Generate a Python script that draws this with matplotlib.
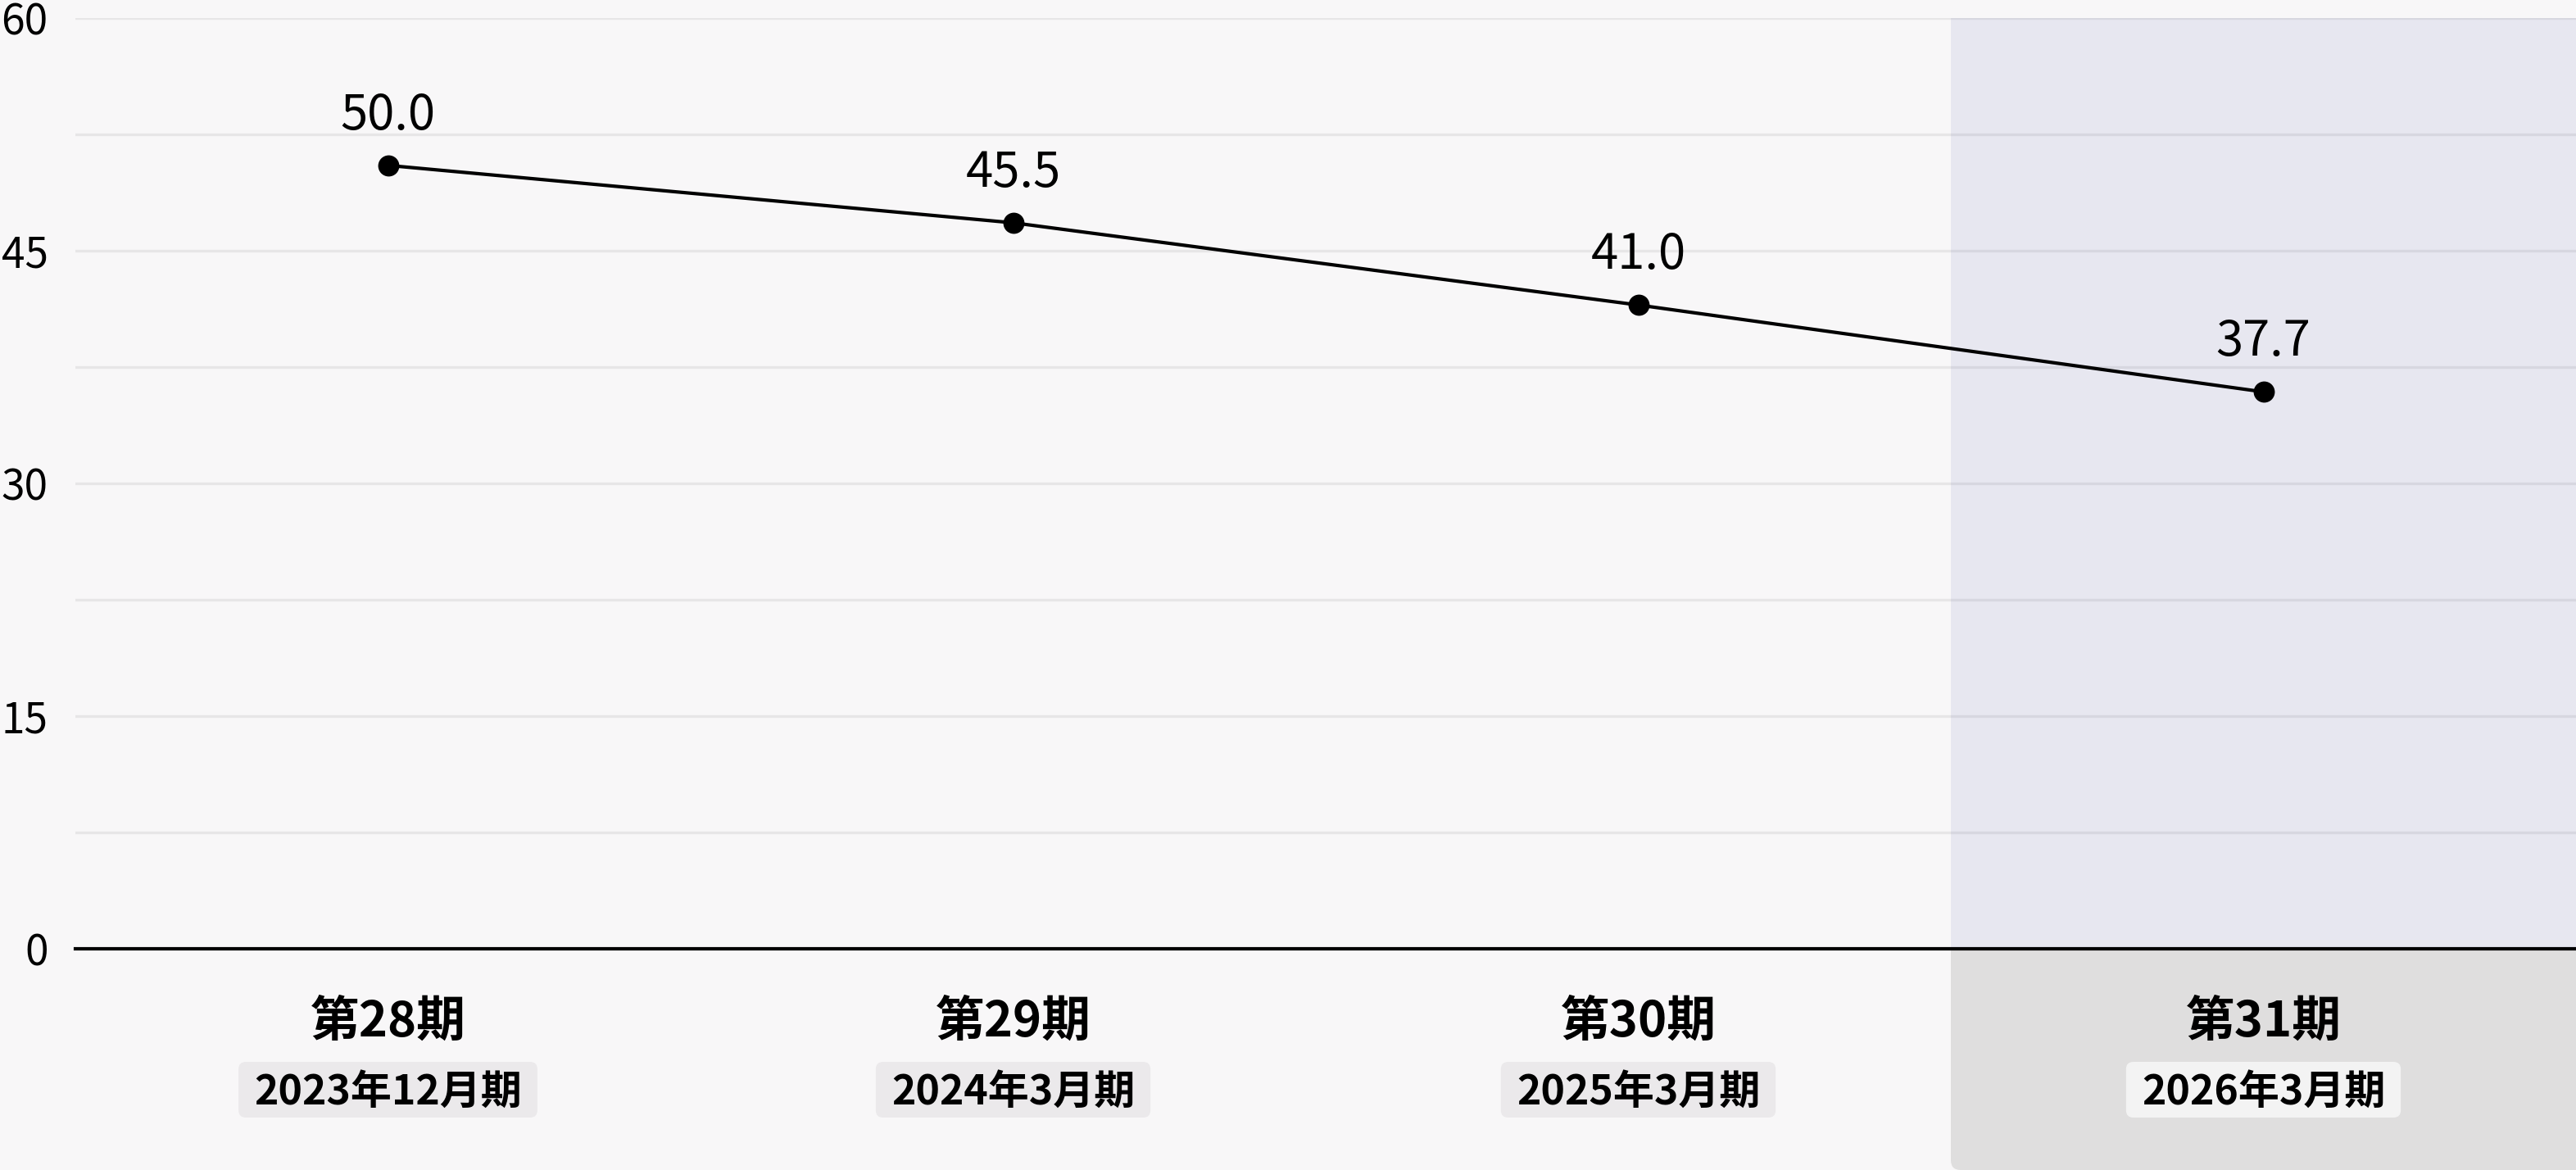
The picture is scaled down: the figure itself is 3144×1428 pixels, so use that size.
import matplotlib
matplotlib.use("Agg")
import matplotlib.pyplot as plt
from matplotlib.patches import FancyBboxPatch
from matplotlib.transforms import IdentityTransform

# ---- data ----
periods = ["第28期", "第29期", "第30期", "第31期"]
fiscal = ["2023年12月期", "2024年3月期", "2025年3月期", "2026年3月期"]
values = [50.5, 46.8, 41.5, 35.9]
value_labels = ["50.0", "45.5", "41.0", "37.7"]
yticks = [0, 15, 30, 45, 60]

plt.rcParams['font.family'] = ['Noto Sans CJK JP', 'DejaVu Sans']

W, H, DPI = 3144, 1428, 200
BG = '#f8f7f8'
fig = plt.figure(figsize=(W / DPI, H / DPI), dpi=DPI)
fig.patch.set_facecolor(BG)

left_px, top_px, base_px = 92, 22, 1158
ax = fig.add_axes([left_px / W, (H - base_px) / H, 1 - left_px / W, (base_px - top_px) / H])
ax.set_facecolor(BG)
ax.set_xlim(-0.5, len(periods) - 0.5)
ax.set_ylim(0, 60)
for s in ax.spines.values():
    s.set_visible(False)

ax.set_yticks(yticks)
ax.set_yticks([7.5, 22.5, 37.5, 52.5], minor=True)
ax.set_xticks([])
ax.tick_params(axis='y', which='both', length=0, pad=12.0, labelsize=18.5, labelcolor='black')
ax.set_axisbelow(True)
ax.grid(axis='y', which='both', color='black', alpha=0.065, lw=1.2)

# forecast shading
last = len(periods) - 1
ax.axvspan(last - 0.5, last + 0.5, color='#e7e7f0', zorder=0.2, lw=0)

# baseline
ax.axhline(0, color='black', lw=1.5, zorder=3, clip_on=False)

# line
x = list(range(len(periods)))
ax.plot(x, values, color='black', lw=1.5, marker='o', ms=8.3, zorder=4, clip_on=False)
for xi, v, lbl in zip(x, values, value_labels):
    ax.annotate(lbl, (xi, v), xytext=(0, 15.8), textcoords='offset points',
                ha='center', va='baseline', fontsize=21.5, color='black', zorder=5)

# category labels
tr = ax.get_xaxis_transform()
ax_h = base_px - top_px
main_y = (base_px - 1265) / ax_h
sub_y = (base_px - 1348) / ax_h
sub_texts = []
for xi, p, f in zip(x, periods, fiscal):
    ax.text(xi, main_y, p, transform=tr, ha='center', va='baseline',
            fontsize=21.5, fontweight='bold', color='black', clip_on=False)
    t = ax.text(xi, sub_y, f, transform=tr, ha='center', va='baseline',
                fontsize=18, fontweight='bold', color='black', clip_on=False, zorder=6)
    sub_texts.append(t)

# gray lower band for forecast column (rounded bottom-left)
x0_px = ax.transData.transform((last - 0.5, 0))[0]
band = FancyBboxPatch((x0_px, 0), W - x0_px + 40, (H - base_px) + 30,
                      boxstyle='round,pad=0,rounding_size=12',
                      transform=IdentityTransform(), facecolor='#dfdede',
                      edgecolor='none', zorder=-1)
fig.add_artist(band)

# rounded boxes behind fiscal labels
fig.canvas.draw()
renderer = fig.canvas.get_renderer()
box_cy = H - 1330
box_h = 68
for i, t in enumerate(sub_texts):
    bb = t.get_window_extent(renderer)
    bw = bb.width + 38
    cx = (bb.x0 + bb.x1) / 2
    col = '#f3f3f3' if i == last else '#ebe9eb'
    box = FancyBboxPatch((cx - bw / 2, box_cy - box_h / 2), bw, box_h,
                         boxstyle='round,pad=0,rounding_size=9',
                         transform=IdentityTransform(), facecolor=col,
                         edgecolor='none', zorder=-0.5)
    fig.add_artist(box)

fig.savefig('out.png', dpi=DPI, facecolor=BG)
